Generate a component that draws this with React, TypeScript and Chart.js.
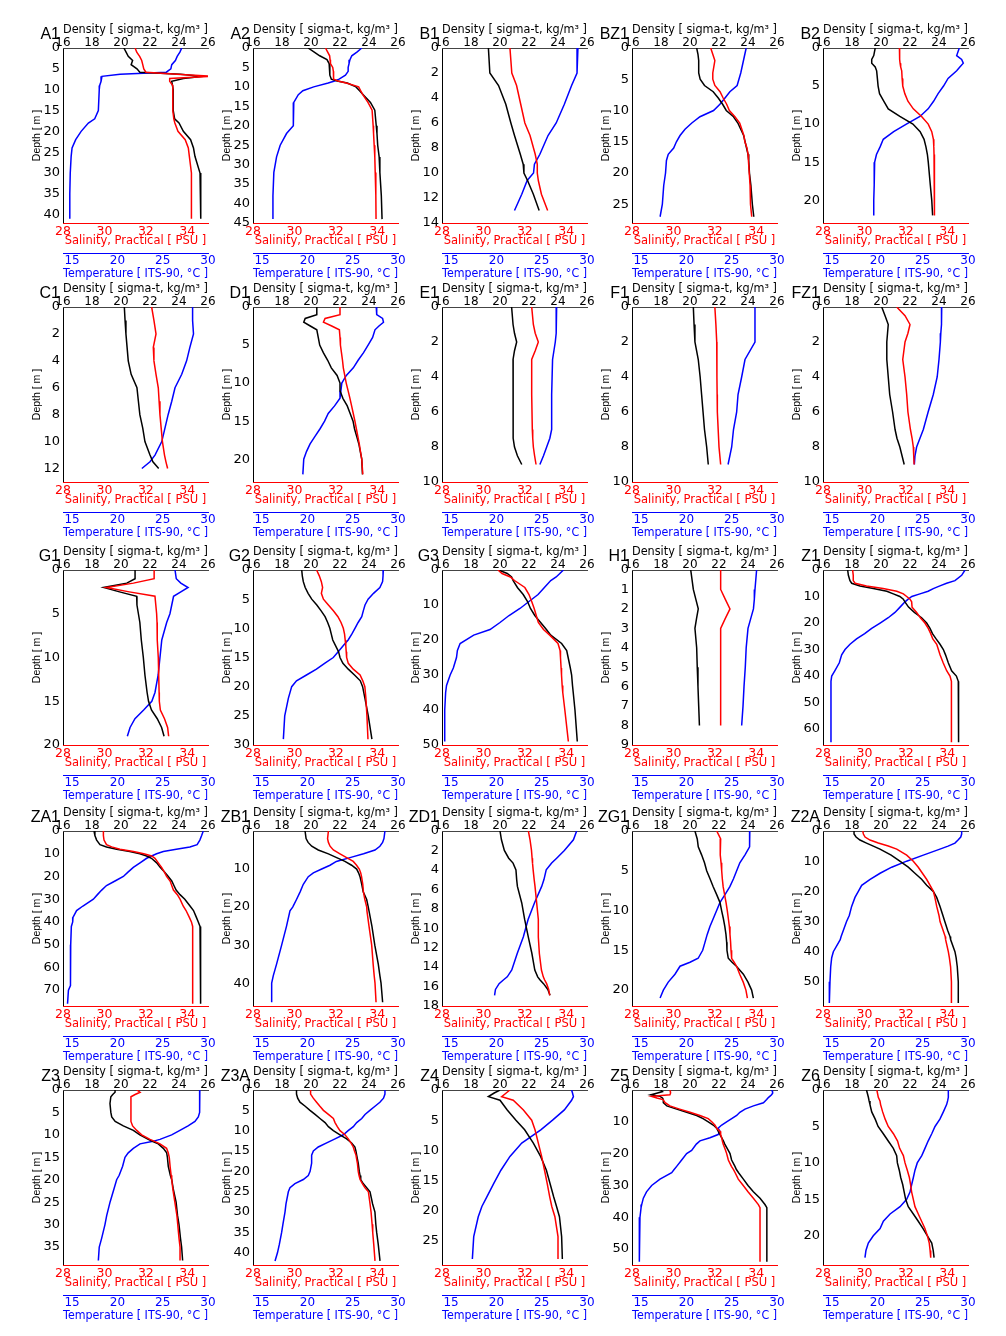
import React, { useEffect, useRef } from "react";
import { Chart, registerables } from "chart.js";
Chart.register(...registerables);

// ---------- axis ranges and tick labels ----------
const DENSITY_TICKS = [16, 18, 20, 22, 24, 26];
const SALINITY_TICKS = [28, 30, 32, 34];
const TEMPERATURE_TICKS = [15, 20, 25, 30];
const DENSITY_RANGE = [16, 26];
const SALINITY_RANGE = [28, 35];
const TEMPERATURE_RANGE = [14, 30];

// ---------- station profiles (depth m, sigma-t, salinity PSU, temperature °C) ----------
const A1_depth = [0, 1, 2, 3, 4, 5, 5.8, 6.3, 6.8, 7.3, 8, 9, 10, 15, 17, 18, 20, 22, 24, 26, 30, 35, 41];
const A1_sigma = [20.2, 20.35, 20.5, 20.8, 20.7, 21.1, 21.3, 24.1, 25.6, 24.3, 23.5, 23.55, 23.6, 23.6, 23.7, 24.0, 24.3, 24.8, 25.0, 25.1, 25.45, 25.5, 25.5];
const A1_sal = [31.48, 31.56, 31.7, 31.8, 31.85, 31.9, 32.0, 33.5, 35.2, 33.15, 33.15, 33.3, 33.3, 33.3, 33.35, 33.4, 33.55, 33.9, 34.05, 34.1, 34.2, 34.2, 34.2];
const A1_temp = [27.1, 26.9, 26.6, 26.4, 26.0, 25.9, 25.4, 20.3, 18.3, 18.2, 18.2, 18.05, 18.0, 17.9, 17.5, 16.8, 16.0, 15.4, 15.0, 14.9, 14.8, 14.75, 14.75];

const A2_depth = [0, 1, 2, 3, 4, 5, 6, 7, 8, 8.5, 9, 10, 11, 12, 14, 16, 20, 22, 25, 28, 32, 38, 44];
const A2_sigma = [19.8, 20.2, 20.6, 21.1, 21.25, 21.3, 21.3, 21.3, 21.4, 21.8, 22.5, 23.1, 23.35, 23.6, 24.1, 24.4, 24.5, 24.55, 24.6, 24.7, 24.75, 24.85, 24.9];
const A2_sal = [31.5, 31.6, 31.7, 31.72, 31.74, 31.85, 31.88, 31.88, 31.9, 32.1, 32.5, 33.1, 33.2, 33.3, 33.55, 33.75, 33.8, 33.82, 33.85, 33.88, 33.9, 33.93, 33.94];
const A2_temp = [26.0, 25.5, 24.9, 24.7, 24.6, 24.5, 24.5, 24.2, 23.5, 23.0, 22.3, 20.7, 19.5, 19.0, 18.5, 18.45, 18.45, 17.7, 17.0, 16.6, 16.3, 16.2, 16.2];

const B1_depth = [0, 2, 3, 4.5, 6, 7, 8.5, 9.3, 10, 10.6, 11.7, 13];
const B1_sigma = [19.2, 19.3, 19.9, 20.4, 20.75, 21.0, 21.4, 21.6, 21.65, 21.9, 22.3, 22.7];
const B1_sal = [31.28, 31.37, 31.6, 31.8, 32.0, 32.25, 32.5, 32.6, 32.6, 32.65, 32.8, 33.1];
const B1_temp = [29.0, 28.9, 28.3, 27.5, 26.6, 25.7, 24.8, 24.2, 24.1, 23.4, 22.8, 22.0];

const BZ1_depth = [0, 1, 2, 4, 5, 6, 7, 8, 9, 10, 11, 12, 13, 14, 15, 16, 17, 18, 20, 22, 25, 27];
const BZ1_sigma = [20.46, 20.55, 20.6, 20.6, 20.7, 21.0, 21.6, 21.95, 22.25, 22.5, 23.0, 23.3, 23.5, 23.7, 23.8, 23.9, 24.0, 24.05, 24.1, 24.2, 24.3, 24.4];
const BZ1_sal = [31.8, 31.9, 32.0, 31.9, 31.9, 32.0, 32.25, 32.4, 32.57, 32.7, 32.97, 33.2, 33.3, 33.4, 33.45, 33.55, 33.6, 33.62, 33.66, 33.7, 33.72, 33.78];
const BZ1_temp = [26.6, 26.45, 26.3, 26.0, 25.8, 25.6, 24.8, 24.26, 23.7, 23.0, 21.5, 20.6, 19.85, 19.3, 18.9, 18.6, 18.0, 17.8, 17.7, 17.5, 17.35, 17.1];

const B2_depth = [0, 1, 1.5, 2, 2.5, 3, 4, 5, 6, 7, 8, 9, 10, 11, 12, 13, 14, 15, 18, 20, 22];
const B2_sigma = [19.6, 19.5, 19.36, 19.36, 19.6, 19.7, 19.75, 19.8, 19.9, 20.2, 20.5, 21.3, 22.2, 22.7, 22.97, 23.1, 23.2, 23.26, 23.4, 23.5, 23.56];
const B2_sal = [31.69, 31.7, 31.7, 31.72, 31.75, 31.8, 31.82, 31.85, 31.95, 32.1, 32.36, 32.76, 33.08, 33.25, 33.33, 33.35, 33.36, 33.36, 33.38, 33.38, 33.4];
const B2_temp = [29.04, 28.75, 29.3, 29.48, 29.1, 28.75, 27.8, 27.3, 26.7, 26.2, 25.6, 24.7, 23.2, 21.8, 20.65, 20.3, 19.9, 19.7, 19.65, 19.6, 19.6];

const C1_depth = [0, 1, 2, 3, 4, 5, 6, 7, 8, 9, 10, 11, 11.5, 12];
const C1_sigma = [20.23, 20.28, 20.34, 20.42, 20.5, 20.7, 21.1, 21.2, 21.3, 21.5, 21.65, 22.0, 22.2, 22.6];
const C1_sal = [32.28, 32.39, 32.49, 32.36, 32.39, 32.49, 32.6, 32.64, 32.68, 32.74, 32.8, 32.9, 32.97, 33.05];
const C1_temp = [28.3, 28.3, 28.4, 28.0, 27.64, 27.1, 26.36, 26.0, 25.6, 25.25, 24.9, 24.15, 23.6, 22.7];

const D1_depth = [0, 1, 1.5, 2, 2.5, 3, 4, 5, 6, 7, 8, 9, 10, 11, 12, 13, 14, 15, 16, 17, 18, 19, 20, 22];
const D1_sigma = [20.4, 20.4, 19.6, 19.5, 19.95, 20.4, 20.5, 20.6, 20.85, 21.15, 21.4, 21.8, 22.0, 22.0, 22.2, 22.5, 22.7, 22.9, 23.0, 23.15, 23.3, 23.4, 23.5, 23.55];
const D1_sal = [32.2, 32.2, 31.48, 31.4, 31.8, 32.17, 32.2, 32.22, 32.27, 32.32, 32.36, 32.43, 32.5, 32.59, 32.68, 32.76, 32.84, 32.92, 32.99, 33.06, 33.13, 33.19, 33.25, 33.3];
const D1_temp = [27.6, 27.65, 28.3, 28.4, 27.9, 27.46, 27.2, 26.7, 26.2, 25.6, 25.07, 24.3, 23.8, 23.7, 23.6, 23.0, 22.3, 21.9, 21.4, 20.84, 20.3, 19.9, 19.6, 19.5];

const E1_depth = [0, 1, 1.5, 2, 2.5, 3, 5, 7, 7.5, 8, 8.5, 9];
const E1_sigma = [20.8, 20.9, 21.0, 21.15, 21.0, 20.9, 20.9, 20.9, 20.92, 21.0, 21.2, 21.5];
const E1_sal = [32.33, 32.41, 32.5, 32.65, 32.5, 32.33, 32.33, 32.36, 32.38, 32.41, 32.47, 32.54];
const E1_temp = [26.65, 26.6, 26.6, 26.5, 26.35, 26.2, 26.1, 26.1, 25.9, 25.55, 25.2, 24.8];

const F1_depth = [0, 1, 2, 3, 4, 5, 6, 7, 8, 9];
const F1_sigma = [20.23, 20.28, 20.34, 20.57, 20.7, 20.8, 20.9, 21.0, 21.15, 21.26];
const F1_sal = [32.0, 32.05, 32.09, 32.1, 32.1, 32.11, 32.12, 32.16, 32.2, 32.28];
const F1_temp = [27.57, 27.57, 27.57, 26.47, 26.1, 25.7, 25.55, 25.2, 25.0, 24.6];

const FZ1_depth = [0, 0.5, 1, 1.5, 2, 3, 4, 5, 6, 7, 7.5, 8, 8.5, 9];
const FZ1_sigma = [20.05, 20.28, 20.5, 20.45, 20.4, 20.4, 20.5, 20.6, 20.8, 20.97, 21.1, 21.3, 21.45, 21.6];
const FZ1_sal = [31.56, 31.96, 32.2, 32.1, 31.96, 31.85, 31.96, 32.04, 32.1, 32.22, 32.3, 32.36, 32.38, 32.4];
const FZ1_temp = [27.1, 27.1, 27.05, 27.0, 26.95, 26.8, 26.6, 26.17, 25.6, 25.07, 24.7, 24.33, 24.15, 24.08];

const G1_depth = [0, 1, 1.5, 2, 2.5, 3, 4, 5, 6, 8, 10, 12, 14, 15, 16, 17, 18, 19];
const G1_sigma = [20.97, 20.97, 20.4, 18.8, 19.9, 21.08, 21.1, 21.2, 21.3, 21.4, 21.54, 21.65, 21.8, 21.9, 22.1, 22.5, 22.8, 22.97];
const G1_sal = [32.4, 32.4, 31.4, 30.1, 31.2, 32.44, 32.48, 32.52, 32.54, 32.55, 32.6, 32.62, 32.64, 32.65, 32.7, 32.9, 33.05, 33.1];
const G1_temp = [26.36, 26.5, 27.0, 27.8, 27.0, 26.2, 26.0, 25.8, 25.44, 24.9, 24.7, 24.5, 24.15, 23.8, 22.9, 21.94, 21.4, 21.1];

const G2_depth = [0, 1, 2, 3, 4, 5, 6, 7, 8, 9, 10, 11, 12, 13, 14, 15, 16, 17, 18, 19, 20, 22, 25, 29];
const G2_sigma = [19.36, 19.4, 19.47, 19.6, 19.8, 20.05, 20.4, 20.7, 20.97, 21.15, 21.3, 21.4, 21.5, 21.7, 21.9, 22.0, 22.2, 22.57, 23.0, 23.4, 23.56, 23.72, 23.95, 24.2];
const G2_sal = [31.07, 31.2, 31.3, 31.36, 31.3, 31.4, 31.64, 31.88, 32.1, 32.25, 32.36, 32.42, 32.45, 32.48, 32.5, 32.52, 32.6, 32.84, 33.17, 33.3, 33.4, 33.45, 33.5, 33.55];
const G2_temp = [28.38, 28.35, 28.3, 28.0, 27.3, 26.7, 26.36, 26.17, 26.0, 25.6, 25.25, 24.9, 24.5, 23.95, 23.4, 22.86, 21.9, 21.0, 19.9, 18.8, 18.27, 17.9, 17.5, 17.35];

const G3_depth = [0, 1, 2, 3, 5, 7, 9, 11, 13, 15, 17, 18.6, 21, 23, 25, 28, 30, 33, 35, 40, 49];
const G3_sigma = [19.9, 20.5, 20.8, 20.9, 21.2, 21.6, 21.9, 22.1, 22.4, 22.8, 23.2, 23.5, 24.25, 24.6, 24.7, 24.85, 24.94, 25.0, 25.05, 25.17, 25.33];
const G3_sal = [30.7, 30.9, 31.3, 31.5, 32.0, 32.2, 32.33, 32.45, 32.55, 32.65, 32.9, 33.2, 33.6, 33.7, 33.72, 33.75, 33.77, 33.8, 33.83, 33.93, 34.1];
const G3_temp = [27.4, 27.0, 26.6, 26.0, 25.3, 24.6, 23.6, 22.6, 21.4, 20.4, 19.3, 17.5, 16.0, 15.7, 15.6, 15.25, 14.9, 14.5, 14.4, 14.3, 14.3];

const H1_depth = [0, 1, 1.5, 2, 2.5, 3, 4, 5, 6, 7, 8];
const H1_sigma = [20.05, 20.23, 20.4, 20.57, 20.45, 20.34, 20.46, 20.5, 20.55, 20.6, 20.65];
const H1_sal = [32.28, 32.28, 32.5, 32.73, 32.5, 32.28, 32.28, 32.28, 32.28, 32.28, 32.28];
const H1_temp = [27.75, 27.57, 27.5, 27.4, 27.1, 26.8, 26.6, 26.5, 26.36, 26.25, 26.1];

const Z1_depth = [0, 2, 4, 5, 6, 7, 8, 9, 10, 11, 12, 14, 16, 18, 20, 22, 24, 26, 28, 30, 32, 35, 38, 40, 42, 50, 65];
const Z1_sigma = [17.7, 17.75, 17.86, 17.98, 18.55, 19.47, 20.4, 20.85, 21.3, 21.54, 21.65, 21.9, 22.3, 22.8, 23.15, 23.38, 23.55, 23.8, 24.07, 24.3, 24.45, 24.64, 24.87, 25.2, 25.33, 25.35, 25.35];
const Z1_sal = [29.43, 29.46, 29.46, 29.55, 30.1, 30.9, 31.56, 31.88, 32.04, 32.2, 32.28, 32.3, 32.52, 32.7, 32.92, 33.08, 33.2, 33.3, 33.49, 33.57, 33.65, 33.8, 33.97, 34.13, 34.2, 34.2, 34.2];
const Z1_temp = [29.67, 29.3, 28.56, 27.64, 26.9, 26.17, 25.6, 24.7, 23.8, 23.4, 23.05, 22.5, 21.94, 21.2, 20.3, 19.37, 18.6, 17.7, 16.98, 16.43, 16.06, 15.8, 15.3, 14.96, 14.88, 14.88, 14.88];

const ZA1_depth = [0, 2, 4, 6, 7, 8, 9, 10, 11, 12, 14, 16, 18, 20, 22, 24, 26, 28, 30, 33, 35, 38, 40, 42, 50, 60, 68, 70, 76];
const ZA1_sigma = [18.14, 18.2, 18.32, 18.55, 19.0, 19.7, 20.6, 21.3, 21.77, 22.1, 22.46, 22.7, 23.0, 23.26, 23.5, 23.65, 23.8, 24.07, 24.4, 24.76, 25.0, 25.2, 25.33, 25.45, 25.47, 25.48, 25.5, 25.5, 25.5];
const ZA1_sal = [29.95, 29.95, 29.98, 30.1, 30.35, 30.75, 31.4, 31.9, 32.28, 32.44, 32.6, 32.76, 32.89, 33.0, 33.17, 33.25, 33.33, 33.52, 33.65, 33.8, 33.94, 34.1, 34.2, 34.26, 34.26, 34.26, 34.26, 34.26, 34.26];
const ZA1_temp = [29.48, 29.3, 29.1, 28.8, 28.0, 26.5, 25.07, 24.33, 23.78, 23.23, 22.5, 21.76, 21.2, 20.66, 19.74, 18.8, 18.27, 17.8, 17.35, 16.2, 15.5, 15.1, 15.07, 14.92, 14.85, 14.85, 14.8, 14.6, 14.5];

const ZB1_depth = [0, 2, 3, 4, 5, 6, 7, 8, 9, 10, 11, 12, 14, 16, 18, 20, 21, 25, 30, 35, 38, 40, 45];
const ZB1_sigma = [19.59, 19.66, 19.8, 20.05, 20.5, 21.2, 21.77, 22.34, 22.8, 23.15, 23.28, 23.38, 23.5, 23.6, 23.84, 23.95, 24.0, 24.2, 24.4, 24.64, 24.75, 24.83, 24.94];
const ZB1_sal = [31.64, 31.6, 31.64, 31.72, 31.88, 32.2, 32.52, 32.84, 33.0, 33.13, 33.2, 33.24, 33.3, 33.33, 33.4, 33.49, 33.5, 33.6, 33.73, 33.8, 33.85, 33.89, 33.94];
const ZB1_temp = [28.56, 28.45, 28.3, 28.0, 27.46, 26.2, 24.7, 23.2, 22.5, 21.58, 20.66, 20.1, 19.55, 19.2, 18.8, 18.38, 18.08, 17.7, 17.16, 16.6, 16.24, 16.06, 16.06];

const ZD1_depth = [0, 0.9, 2, 2.8, 3.3, 4, 5, 5.7, 7.4, 9.1, 10.9, 12.6, 14.3, 15, 15.3, 15.7, 16.3, 16.9];
const ZD1_sigma = [20.0, 20.1, 20.3, 20.6, 20.9, 21.1, 21.15, 21.2, 21.5, 21.7, 21.95, 22.2, 22.4, 22.6, 22.75, 23.0, 23.3, 23.45];
const ZD1_sal = [32.17, 32.25, 32.32, 32.35, 32.37, 32.4, 32.45, 32.49, 32.57, 32.65, 32.65, 32.7, 32.8, 32.89, 32.95, 33.05, 33.15, 33.2];
const ZD1_temp = [28.86, 28.5, 27.5, 26.65, 26.1, 25.5, 25.25, 25.0, 24.2, 23.5, 22.97, 22.3, 21.7, 21.2, 20.8, 20.3, 19.9, 19.8];

const ZG1_depth = [0, 1, 2, 3, 4, 5, 6, 7, 8, 9, 10, 11, 12, 13, 14, 15, 16, 16.5, 17, 18, 19, 20, 21];
const ZG1_sigma = [20.34, 20.5, 20.57, 20.8, 21.0, 21.15, 21.38, 21.6, 21.84, 22.07, 22.18, 22.3, 22.4, 22.48, 22.53, 22.55, 22.64, 22.9, 23.2, 23.68, 24.0, 24.25, 24.37];
const ZG1_sal = [32.09, 32.28, 32.25, 32.27, 32.3, 32.33, 32.36, 32.4, 32.47, 32.54, 32.6, 32.65, 32.7, 32.73, 32.76, 32.78, 32.81, 32.93, 33.05, 33.2, 33.37, 33.5, 33.57];
const ZG1_temp = [27.0, 27.0, 26.95, 26.47, 25.9, 25.55, 25.2, 24.8, 24.26, 23.7, 23.34, 22.97, 22.6, 22.3, 22.05, 21.8, 21.3, 20.4, 19.3, 18.74, 18.0, 17.46, 17.1];

const Z2A_depth = [0, 1, 2, 3, 4, 5, 6, 8, 10, 12, 14, 16, 18, 20, 22, 25, 28, 30, 33, 35, 36, 40, 42, 45, 50, 57];
const Z2A_sigma = [18.14, 18.14, 18.28, 18.55, 19.0, 19.47, 19.93, 20.7, 21.3, 21.88, 22.34, 22.8, 23.15, 23.6, 23.84, 24.07, 24.27, 24.4, 24.6, 24.76, 24.8, 25.1, 25.18, 25.26, 25.33, 25.33];
const Z2A_sal = [29.92, 29.95, 30.03, 30.27, 30.67, 31.15, 31.56, 32.04, 32.36, 32.6, 32.8, 33.0, 33.17, 33.33, 33.4, 33.49, 33.6, 33.65, 33.8, 33.9, 33.92, 34.05, 34.1, 34.16, 34.2, 34.2];
const Z2A_temp = [29.3, 29.3, 29.2, 28.9, 28.56, 27.8, 26.9, 25.07, 23.23, 21.58, 20.3, 19.2, 18.27, 17.9, 17.53, 17.16, 16.9, 16.6, 16.24, 16.0, 15.9, 15.14, 14.96, 14.85, 14.77, 14.7];

const Z3_depth = [0, 0.5, 1, 1.5, 3, 5, 6, 7, 8, 9, 10, 11, 11.5, 12, 13, 14, 15, 17, 19, 20, 22, 25, 28, 30, 33, 35, 38];
const Z3_sigma = [19.59, 19.59, 19.43, 19.3, 19.24, 19.3, 19.36, 19.6, 20.16, 20.85, 21.3, 21.88, 22.2, 22.57, 22.92, 23.15, 23.2, 23.26, 23.4, 23.5, 23.6, 23.8, 23.9, 24.0, 24.1, 24.18, 24.25];
const Z3_sal = [31.56, 31.72, 31.48, 31.28, 31.28, 31.28, 31.28, 31.28, 31.36, 31.56, 31.8, 32.2, 32.45, 32.68, 33.0, 33.08, 33.13, 33.17, 33.22, 33.25, 33.3, 33.4, 33.5, 33.54, 33.6, 33.65, 33.65];
const Z3_temp = [29.1, 29.1, 29.1, 29.08, 29.06, 29.04, 28.93, 28.56, 27.8, 26.9, 25.99, 24.7, 23.8, 22.5, 21.76, 21.2, 20.84, 20.58, 20.2, 19.92, 19.63, 19.19, 18.82, 18.63, 18.27, 18.0, 17.9];

const Z3A_depth = [0, 1, 2, 3, 4, 5, 6, 7, 8, 9, 10, 11, 12, 13, 14, 15, 16, 18, 20, 21, 22, 23, 24, 25, 28, 30, 33, 35, 38, 40, 42];
const Z3A_sigma = [19.0, 19.0, 19.08, 19.24, 19.6, 19.93, 20.28, 20.62, 20.97, 21.2, 21.54, 22.0, 22.46, 22.8, 23.03, 23.1, 23.15, 23.26, 23.33, 23.38, 23.43, 23.6, 23.84, 24.07, 24.25, 24.41, 24.47, 24.53, 24.64, 24.7, 24.76];
const Z3A_sal = [30.78, 30.78, 30.91, 31.07, 31.23, 31.4, 31.64, 31.88, 31.96, 32.07, 32.2, 32.44, 32.6, 32.73, 32.84, 32.9, 32.97, 33.04, 33.08, 33.12, 33.17, 33.28, 33.4, 33.57, 33.65, 33.7, 33.75, 33.78, 33.83, 33.86, 33.89];
const Z3A_temp = [28.56, 28.56, 28.4, 28.0, 27.46, 26.9, 26.36, 26.0, 25.44, 25.07, 24.5, 23.97, 23.05, 22.13, 21.2, 20.66, 20.47, 20.47, 20.3, 20.1, 19.55, 18.63, 18.08, 17.9, 17.64, 17.53, 17.3, 17.16, 16.9, 16.7, 16.43];

const Z4_depth = [0, 0.5, 1.1, 1.7, 3.3, 5, 6.6, 8.8, 11, 13.3, 15.5, 17.7, 19.3, 21, 24.3, 28];
const Z4_sigma = [20.0, 19.6, 19.2, 20.0, 20.5, 21.1, 21.7, 22.3, 22.8, 23.2, 23.45, 23.7, 23.9, 24.1, 24.25, 24.3];
const Z4_sal = [31.28, 31.1, 30.88, 31.44, 31.93, 32.33, 32.49, 32.65, 32.81, 32.95, 33.08, 33.2, 33.3, 33.45, 33.6, 33.6];
const Z4_temp = [28.3, 28.4, 28.5, 28.3, 27.5, 26.2, 24.9, 22.8, 21.5, 20.5, 19.7, 18.95, 18.4, 18.0, 17.5, 17.35];

const Z5_depth = [0, 0.5, 1, 1.5, 2, 2.5, 3, 4, 5, 6, 7, 8, 9, 10, 11, 12, 13, 14, 15, 16, 17, 19, 20, 22, 24, 25, 26, 28, 30, 32, 34, 36, 37, 40, 45, 54];
const Z5_sigma = [17.98, 18.1, 17.7, 17.29, 17.93, 18.1, 18.16, 18.16, 18.4, 19.08, 19.77, 20.46, 20.9, 21.26, 21.6, 21.84, 21.95, 22.07, 22.18, 22.3, 22.4, 22.64, 22.76, 22.87, 23.1, 23.2, 23.35, 23.68, 24.0, 24.37, 24.83, 25.17, 25.3, 25.3, 25.3, 25.3];
const Z5_sal = [29.83, 29.85, 29.86, 29.83, 28.95, 29.2, 29.5, 29.6, 29.83, 30.3, 30.8, 31.28, 31.68, 31.85, 32.0, 32.09, 32.25, 32.28, 32.33, 32.36, 32.4, 32.52, 32.57, 32.65, 32.8, 32.9, 32.98, 33.13, 33.37, 33.6, 33.86, 34.1, 34.18, 34.18, 34.18, 34.18];
const Z5_temp = [29.4, 29.5, 29.52, 29.4, 29.2, 29.0, 28.86, 28.5, 27.4, 26.47, 25.9, 25.55, 25.0, 24.44, 23.9, 23.5, 23.7, 23.5, 22.6, 21.5, 21.1, 20.58, 20.03, 19.48, 18.93, 18.65, 18.38, 17.09, 16.17, 15.6, 15.25, 15.07, 15.0, 14.88, 14.82, 14.8];

const Z6_depth = [0, 1, 1.5, 2, 3, 4, 5, 6, 7, 8, 9, 10, 11, 12, 13, 14, 15, 16, 17, 18, 19, 20, 21, 22, 23];
const Z6_sigma = [19.0, 19.13, 19.18, 19.24, 19.36, 19.6, 19.8, 20.16, 20.5, 20.85, 21.08, 21.13, 21.26, 21.36, 21.5, 21.6, 21.7, 21.88, 22.23, 22.57, 22.9, 23.2, 23.5, 23.6, 23.66];
const Z6_sal = [30.6, 30.67, 30.75, 30.78, 30.88, 31.0, 31.15, 31.4, 31.6, 31.7, 31.88, 31.96, 32.07, 32.17, 32.23, 32.28, 32.36, 32.44, 32.6, 32.76, 32.92, 33.04, 33.13, 33.17, 33.2];
const Z6_temp = [27.83, 27.83, 27.75, 27.64, 27.28, 26.9, 26.36, 26.0, 25.6, 25.25, 24.9, 24.4, 24.15, 23.97, 23.78, 23.6, 23.23, 22.5, 21.4, 20.66, 20.3, 19.55, 19.0, 18.74, 18.63];

type Station = {
  name: string; maxDepth: number; step: number;
  depth: number[]; sigma: number[]; sal: number[]; temp: number[];
};

const STATIONS: Station[] = [
  { name: "A1", maxDepth: 42, step: 5, depth: A1_depth, sigma: A1_sigma, sal: A1_sal, temp: A1_temp },
  { name: "A2", maxDepth: 45, step: 5, depth: A2_depth, sigma: A2_sigma, sal: A2_sal, temp: A2_temp },
  { name: "B1", maxDepth: 14, step: 2, depth: B1_depth, sigma: B1_sigma, sal: B1_sal, temp: B1_temp },
  { name: "BZ1", maxDepth: 28, step: 5, depth: BZ1_depth, sigma: BZ1_sigma, sal: BZ1_sal, temp: BZ1_temp },
  { name: "B2", maxDepth: 23, step: 5, depth: B2_depth, sigma: B2_sigma, sal: B2_sal, temp: B2_temp },
  { name: "C1", maxDepth: 13, step: 2, depth: C1_depth, sigma: C1_sigma, sal: C1_sal, temp: C1_temp },
  { name: "D1", maxDepth: 23, step: 5, depth: D1_depth, sigma: D1_sigma, sal: D1_sal, temp: D1_temp },
  { name: "E1", maxDepth: 10, step: 2, depth: E1_depth, sigma: E1_sigma, sal: E1_sal, temp: E1_temp },
  { name: "F1", maxDepth: 10, step: 2, depth: F1_depth, sigma: F1_sigma, sal: F1_sal, temp: F1_temp },
  { name: "FZ1", maxDepth: 10, step: 2, depth: FZ1_depth, sigma: FZ1_sigma, sal: FZ1_sal, temp: FZ1_temp },
  { name: "G1", maxDepth: 20, step: 5, depth: G1_depth, sigma: G1_sigma, sal: G1_sal, temp: G1_temp },
  { name: "G2", maxDepth: 30, step: 5, depth: G2_depth, sigma: G2_sigma, sal: G2_sal, temp: G2_temp },
  { name: "G3", maxDepth: 50, step: 10, depth: G3_depth, sigma: G3_sigma, sal: G3_sal, temp: G3_temp },
  { name: "H1", maxDepth: 9, step: 1, depth: H1_depth, sigma: H1_sigma, sal: H1_sal, temp: H1_temp },
  { name: "Z1", maxDepth: 66, step: 10, depth: Z1_depth, sigma: Z1_sigma, sal: Z1_sal, temp: Z1_temp },
  { name: "ZA1", maxDepth: 77, step: 10, depth: ZA1_depth, sigma: ZA1_sigma, sal: ZA1_sal, temp: ZA1_temp },
  { name: "ZB1", maxDepth: 46, step: 10, depth: ZB1_depth, sigma: ZB1_sigma, sal: ZB1_sal, temp: ZB1_temp },
  { name: "ZD1", maxDepth: 18, step: 2, depth: ZD1_depth, sigma: ZD1_sigma, sal: ZD1_sal, temp: ZD1_temp },
  { name: "ZG1", maxDepth: 22, step: 5, depth: ZG1_depth, sigma: ZG1_sigma, sal: ZG1_sal, temp: ZG1_temp },
  { name: "Z2A", maxDepth: 58, step: 10, depth: Z2A_depth, sigma: Z2A_sigma, sal: Z2A_sal, temp: Z2A_temp },
  { name: "Z3", maxDepth: 39, step: 5, depth: Z3_depth, sigma: Z3_sigma, sal: Z3_sal, temp: Z3_temp },
  { name: "Z3A", maxDepth: 43, step: 5, depth: Z3A_depth, sigma: Z3A_sigma, sal: Z3A_sal, temp: Z3A_temp },
  { name: "Z4", maxDepth: 29, step: 5, depth: Z4_depth, sigma: Z4_sigma, sal: Z4_sal, temp: Z4_temp },
  { name: "Z5", maxDepth: 55, step: 10, depth: Z5_depth, sigma: Z5_sigma, sal: Z5_sal, temp: Z5_temp },
  { name: "Z6", maxDepth: 24, step: 5, depth: Z6_depth, sigma: Z6_sigma, sal: Z6_sal, temp: Z6_temp },
];

// ---------- layout ----------
const PLOT_LEFTS = [63, 253, 442, 632, 823];
const PLOT_TOPS = [48, 307, 570, 831, 1090];
const AXIS_LEFT = 45;
const PLOT_W = 145;
const PAD_RIGHT = 14;
const TOP_AXIS = 27;
const PLOT_H = 175;
const SAL_AXIS = 30;
const TEMP_AXIS = 30;
const PAD_BOTTOM = 4;
const CW = AXIS_LEFT + PLOT_W + PAD_RIGHT;
const CH = TOP_AXIS + PLOT_H + SAL_AXIS + TEMP_AXIS + PAD_BOTTOM;

const TICK_FONT = '"DejaVu Sans", Verdana, sans-serif';
const LABEL_FONT = '"Liberation Sans", Arial, sans-serif';
const RED = "#ff0000";
const BLUE = "#0000ff";

const fixedTicks = (vals: number[]) => (scale: any) => {
  scale.ticks = vals.map((v) => ({ value: v }));
};
const fixSize = (prop: "width" | "height", n: number) => (scale: any) => {
  scale[prop] = n;
};

function Panel({ st, left, top }: { st: Station; left: number; top: number }) {
  const ref = useRef<HTMLCanvasElement>(null);
  useEffect(() => {
    const depthTicks: number[] = [];
    for (let d = 0; d <= st.maxDepth + 1e-9; d += st.step) depthTicks.push(d);
    const pts = (vals: number[]) => st.depth.map((d, i) => ({ x: vals[i], y: d }));
    const line = { showLine: true, pointRadius: 0, borderWidth: 1.5, fill: false, tension: 0 };
    const labelPlugin = {
      id: "panelLabel",
      afterDraw(chart: any) {
        const { ctx, chartArea } = chart;
        ctx.save();
        ctx.fillStyle = "#000";
        ctx.font = `16px ${LABEL_FONT}`;
        ctx.textAlign = "right";
        ctx.textBaseline = "middle";
        ctx.fillText(st.name, chartArea.left - 3, chartArea.top - 13);
        ctx.restore();
      },
    };
    const chart = new Chart(ref.current as HTMLCanvasElement, {
      type: "scatter",
      data: {
        datasets: [
          { label: "Salinity", data: pts(st.sal), xAxisID: "xSal", yAxisID: "y", borderColor: RED, backgroundColor: RED, ...line },
          { label: "Density", data: pts(st.sigma), xAxisID: "xDen", yAxisID: "y", borderColor: "#000", backgroundColor: "#000", ...line },
          { label: "Temperature", data: pts(st.temp), xAxisID: "xTemp", yAxisID: "y", borderColor: BLUE, backgroundColor: BLUE, ...line },
        ],
      },
      options: {
        animation: false,
        responsive: false,
        devicePixelRatio: 1,
        events: [],
        layout: { padding: { left: 0, right: PAD_RIGHT, top: 0, bottom: PAD_BOTTOM } },
        plugins: { legend: { display: false }, tooltip: { enabled: false } },
        scales: {
          y: {
            type: "linear", axis: "y", position: "left", reverse: true,
            min: 0, max: st.maxDepth,
            afterBuildTicks: fixedTicks(depthTicks),
            afterFit: fixSize("width", AXIS_LEFT),
            grid: { display: false, drawTicks: false },
            border: { display: true, color: "#000", width: 1 },
            ticks: { autoSkip: false, padding: 3, color: "#000", font: { family: TICK_FONT, size: 13, lineHeight: 1 } },
            title: { display: true, text: "Depth [ m ]", color: "#000", font: { family: LABEL_FONT, size: 10.5 }, padding: { top: 13, bottom: 0 } },
          },
          xDen: {
            type: "linear", axis: "x", position: "top",
            min: DENSITY_RANGE[0], max: DENSITY_RANGE[1],
            afterBuildTicks: fixedTicks(DENSITY_TICKS),
            afterFit: fixSize("height", TOP_AXIS),
            grid: { display: false, drawTicks: false },
            border: { display: true, color: "#444", width: 1, dash: [2, 2] },
            ticks: { autoSkip: false, maxRotation: 0, minRotation: 0, padding: -1, color: "#000", font: { family: TICK_FONT, size: 12, lineHeight: 1 } },
            title: { display: true, text: "Density [ sigma-t, kg/m³ ]", color: "#000", font: { family: TICK_FONT, size: 11.5 }, padding: { top: 2, bottom: 0 } },
          },
          xSal: {
            type: "linear", axis: "x", position: "bottom", weight: 0,
            min: SALINITY_RANGE[0], max: SALINITY_RANGE[1],
            afterBuildTicks: fixedTicks(SALINITY_TICKS),
            afterFit: fixSize("height", SAL_AXIS),
            grid: { display: false, drawTicks: false },
            border: { display: true, color: RED, width: 1, dash: [3, 1] },
            ticks: { autoSkip: false, maxRotation: 0, minRotation: 0, padding: 2, color: RED, font: { family: TICK_FONT, size: 12.5, lineHeight: 1 } },
            title: { display: true, text: "Salinity, Practical [ PSU ]", color: RED, font: { family: TICK_FONT, size: 11.5 }, padding: { top: 0, bottom: 5 } },
          },
          xTemp: {
            type: "linear", axis: "x", position: "bottom", weight: 1,
            min: TEMPERATURE_RANGE[0], max: TEMPERATURE_RANGE[1],
            afterBuildTicks: fixedTicks(TEMPERATURE_TICKS),
            afterFit: fixSize("height", TEMP_AXIS),
            grid: { display: false, drawTicks: false },
            border: { display: true, color: BLUE, width: 1 },
            ticks: { autoSkip: false, maxRotation: 0, minRotation: 0, padding: 2, color: BLUE, font: { family: TICK_FONT, size: 12, lineHeight: 1 } },
            title: { display: true, text: "Temperature [ ITS-90, °C ]", color: BLUE, font: { family: TICK_FONT, size: 11.5 }, padding: { top: 0, bottom: 2 } },
          },
        },
      } as any,
      plugins: [labelPlugin],
    });
    return () => chart.destroy();
  }, [st]);
  return (
    <canvas
      ref={ref}
      width={CW}
      height={CH}
      style={{ position: "absolute", left, top, width: CW, height: CH }}
    />
  );
}

export default function App() {
  return (
    <div style={{ position: "absolute", left: 0, top: 0, width: 1006, height: 1336, background: "#fff", overflow: "hidden" }}>
      {STATIONS.map((st, i) => {
        const col = i % 5;
        const row = Math.floor(i / 5);
        return (
          <Panel
            key={st.name}
            st={st}
            left={PLOT_LEFTS[col] - AXIS_LEFT}
            top={PLOT_TOPS[row] - TOP_AXIS}
          />
        );
      })}
    </div>
  );
}
